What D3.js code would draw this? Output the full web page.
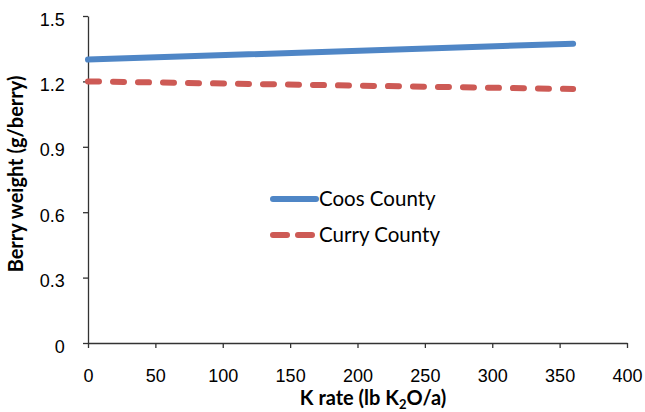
<!DOCTYPE html>
<html>
<head>
<meta charset="utf-8">
<script src="https://cdn.jsdelivr.net/npm/d3@7"></script>
<style>
  body { margin: 0; background: #fff; }
  svg { font-family: Lato, "Open Sans", sans-serif; }
</style>
</head>
<body>
<div id="chart"></div>
<script>
var kRates = [0, 360];
var coos = [1.30, 1.373];
var curry = [1.20, 1.165];
var xTicks = [0, 50, 100, 150, 200, 250, 300, 350, 400];
var yTicks = [0, 0.3, 0.6, 0.9, 1.2, 1.5];

var width = 645, height = 412,
    plotLeft = 88, plotRight = 627, plotTop = 16, plotBottom = 343;

var svg = d3.select("#chart")
            .append("svg")
              .attr("width", width)
              .attr("height", height);

var x = d3.scaleLinear().domain([0, 400]).range([plotLeft, plotRight]);
var y = d3.scaleLinear().domain([0, 1.5]).range([plotBottom, plotTop]);

var xAxis = d3.axisBottom(x).tickValues(xTicks).tickSize(5).tickSizeOuter(0);
var yAxis = d3.axisLeft(y).tickValues(yTicks).tickSize(5).tickSizeOuter(0)
    .tickFormat(function(d){ return d === 0 ? "0" : d3.format(".1f")(d); });

var gx = svg.append("g")
    .attr("transform", "translate(0," + plotBottom + ")")
    .call(xAxis);
gx.selectAll("text").attr("dy", "1.72em").style("font-size", "18px").attr("fill", "#000");

var gy = svg.append("g")
    .attr("transform", "translate(" + plotLeft + ",0)")
    .call(yAxis);
gy.selectAll("text").attr("dx", "-0.85em").attr("dy", "0.5em").style("font-size", "18px").attr("fill", "#000");

svg.selectAll(".domain, .tick line").attr("stroke", "#333").attr("stroke-width", 1.3);

var line = d3.line()
    .x(function(d, i){ return x(kRates[i]); })
    .y(function(d){ return y(d); });

svg.append("path")
    .datum(coos)
    .attr("d", line)
    .attr("fill", "none")
    .attr("stroke", "#4f86c6")
    .attr("stroke-width", 6)
    .attr("stroke-linecap", "round");

svg.append("path")
    .datum(curry)
    .attr("d", line)
    .attr("fill", "none")
    .attr("stroke", "#cd5a55")
    .attr("stroke-width", 6)
    .attr("stroke-linecap", "round")
    .attr("stroke-dasharray", "11,14");

// legend
var legend = [
  {name: "Coos County", color: "#4f86c6", dash: null},
  {name: "Curry County", color: "#cd5a55", dash: "14,11"}
];
var lg = svg.selectAll(".leg").data(legend).enter().append("g")
    .attr("transform", function(d, i){ return "translate(273," + (199 + i * 36) + ")"; });
lg.append("line")
    .attr("x1", 0).attr("x2", 43)
    .attr("stroke", function(d){ return d.color; })
    .attr("stroke-width", 6)
    .attr("stroke-linecap", "round")
    .attr("stroke-dasharray", function(d){ return d.dash; });
lg.append("text")
    .attr("x", 46).attr("dy", "0.36em")
    .style("font-size", "20.5px")
    .text(function(d){ return d.name; });

// axis titles
var xt = svg.append("text")
    .attr("x", 373).attr("y", 405)
    .attr("text-anchor", "middle")
    .style("font-size", "20px").style("font-weight", "bold");
xt.append("tspan").text("K rate (lb K");
xt.append("tspan").attr("dy", 4).style("font-size", "13px").text("2");
xt.append("tspan").attr("dy", -4).text("O/a)");

svg.append("text")
    .attr("transform", "translate(23,174) rotate(-90)")
    .attr("text-anchor", "middle")
    .style("font-size", "20px").style("font-weight", "bold")
    .text("Berry weight (g/berry)");
</script>
</body>
</html>
